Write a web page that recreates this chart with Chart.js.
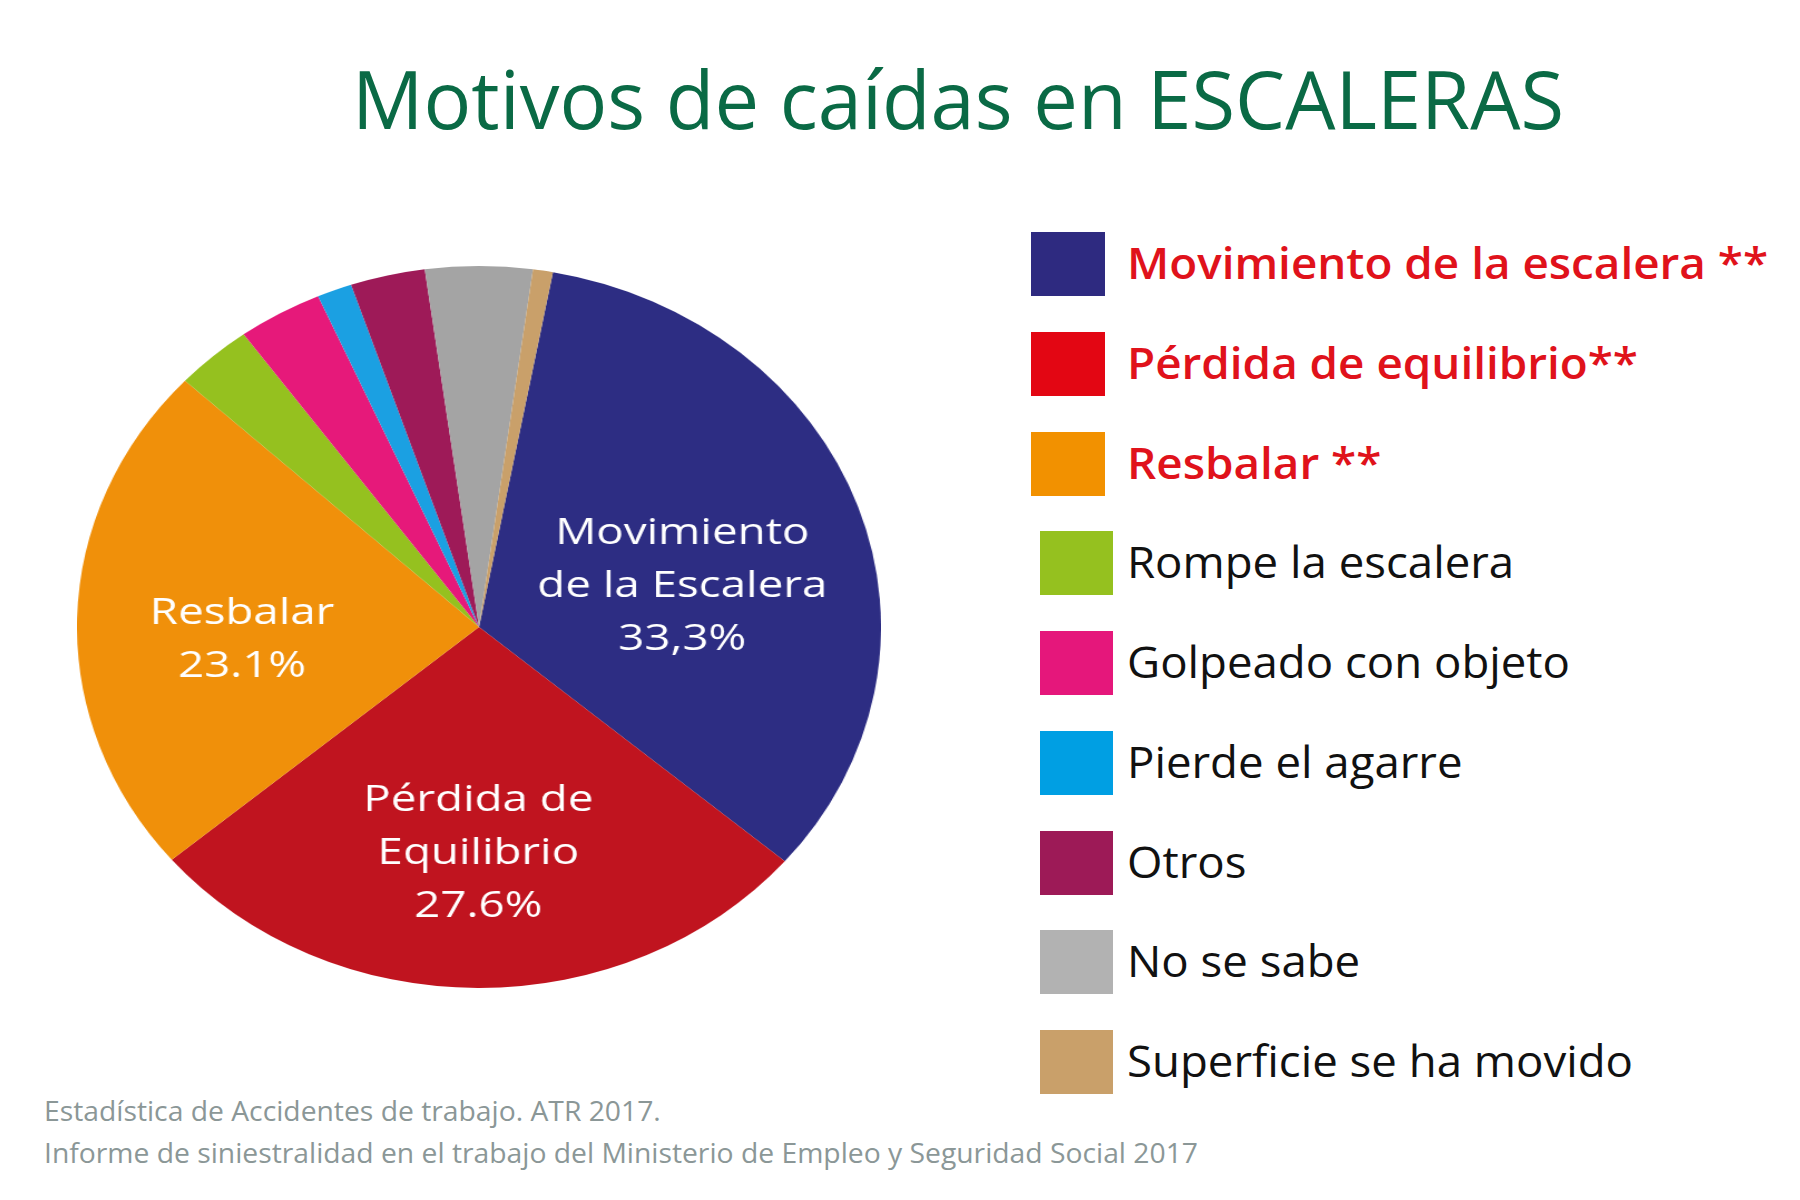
<!DOCTYPE html>
<html><head><meta charset="utf-8">
<script src="https://cdn.jsdelivr.net/npm/chart.js@4.4.1/dist/chart.umd.min.js"></script>
<style>
html,body{margin:0;padding:0;background:#fff;}
body{width:1800px;height:1200px;position:relative;overflow:hidden;}
.t{position:absolute;white-space:nowrap;transform-origin:0 0;margin:0;padding:0;}
.box{position:absolute;}
#pieWrap{position:absolute;left:118px;top:266px;width:722px;height:722px;transform-origin:361px 361px;}
</style></head><body>
<div id="title" class="t"></div>
<div id="pieWrap"><canvas id="pie" width="722" height="722"></canvas></div>
<div id="legend"></div>
<div id="src"></div>
<script>
// ---------- data ----------
const chartTitle = "Motivos de caídas en ESCALERAS";
const categories = ["Movimiento de la escalera", "Pérdida de equilibrio", "Resbalar", "Rompe la escalera", "Golpeado con objeto", "Pierde el agarre", "Otros", "No se sabe", "Superficie se ha movido"];
const legendSuffix = [" **", "**", " **", "", "", "", "", "", ""];
const values = [33.3, 27.6, 23.1, 3.1, 3.4, 1.4, 3.0, 4.3, 0.8];
const sliceLabels = [["Movimiento", "de la Escalera", "33,3%"], ["Pérdida de", "Equilibrio", "27.6%"], ["Resbalar", "23.1%"], null, null, null, null, null, null];
const highlighted = [true, true, true, false, false, false, false, false, false];
const sourceLines = ["Estadística de Accidentes de trabajo. ATR 2017.", "Informe de siniestralidad en el trabajo del Ministerio de Empleo y Seguridad Social 2017"];

// ---------- styles ----------
const pieColors = ["#2d2d83", "#c0141f", "#f0900a", "#95c11f", "#e6197a", "#1ba0e2", "#9e1a58", "#a4a4a4", "#c9a06a"];
const legendColors = ["#2e2a80", "#e30613", "#f29100", "#95c11f", "#e5177b", "#009fe3", "#9d1a57", "#b2b2b2", "#c9a06a"];
const labelRadius = [0.52, 0.62, 0.59];
const labelAngleShift = [6, 0, -4];
const stretchX = 402 / 361;

const UI = '"Open Sans", "Noto Sans", sans-serif';
const mctx = document.createElement('canvas').getContext('2d');
function placeText(el, text, o) {
  el.textContent = text;
  const f = `${o.weight} ${o.size}px ${UI}`;
  el.style.font = f;
  const lh = Math.round(o.size * 1.3);
  el.style.lineHeight = lh + 'px';
  el.style.color = o.color;
  mctx.font = f;
  const m = mctx.measureText(text);
  const A = m.fontBoundingBoxAscent, D = m.fontBoundingBoxDescent;
  el.style.left = o.x + 'px';
  el.style.top = (o.baseline - (lh - (A + D)) / 2 - A) + 'px';
  if (o.sx) el.style.transform = `scaleX(${o.sx})`;
  return m.width;
}
function measure(text, weight, size) {
  mctx.font = `${weight} ${size}px ${UI}`;
  return mctx.measureText(text).width;
}

function build() {
  // title
  const tw = measure(chartTitle, 400, 80);
  placeText(document.getElementById('title'), chartTitle, {weight: 400, size: 80, color: '#0a6a45', x: 352, baseline: 129, sx: 1212 / tw});

  // legend
  const leg = document.getElementById('legend');
  const sxBold = 641 / measure(categories[0] + legendSuffix[0], 600, 43);
  const sxReg = 506 / measure(categories[8] + legendSuffix[8], 500, 43);
  categories.forEach((c, i) => {
    const top = 232 + i * 99.75;
    const b = document.createElement('div');
    b.className = 'box';
    b.style.left = (highlighted[i] ? 1031 : 1040) + 'px';
    b.style.top = top + 'px';
    b.style.width = (highlighted[i] ? 74 : 73) + 'px';
    b.style.height = '64px';
    b.style.background = legendColors[i];
    leg.appendChild(b);
    const t = document.createElement('div');
    t.className = 't';
    leg.appendChild(t);
    placeText(t, c + legendSuffix[i], {
      weight: highlighted[i] ? 600 : 500, size: 43,
      color: highlighted[i] ? '#e0121b' : '#111111',
      x: 1127, baseline: top + 47.5, sx: highlighted[i] ? sxBold : sxReg
    });
  });

  // source
  const src = document.getElementById('src');
  const sxSrc = 1154 / measure(sourceLines[1], 400, 28);
  sourceLines.forEach((s, i) => {
    const t = document.createElement('div');
    t.className = 't';
    src.appendChild(t);
    placeText(t, s, {weight: 400, size: 28, color: '#8b9797', x: 44, baseline: i === 0 ? 1121 : 1163, sx: sxSrc});
  });

  // pie
  document.getElementById('pieWrap').style.transform = `scaleX(${stretchX})`;
  const labelFont = '400 37px "Open Sans", Lato, sans-serif';
  mctx.font = labelFont;
  const labelFit = 290 / mctx.measureText(sliceLabels[0][1]).width;
  const labelPlugin = {
    id: 'sliceLabels',
    afterDatasetsDraw(chart) {
      const ctx = chart.ctx;
      const meta = chart.getDatasetMeta(0);
      meta.data.forEach((arc, i) => {
        const lines = sliceLabels[i];
        if (!lines) return;
        const p = arc.getProps(['x', 'y', 'startAngle', 'endAngle', 'outerRadius'], true);
        const mid = (p.startAngle + p.endAngle) / 2 + labelAngleShift[i] * Math.PI / 180;
        const r = p.outerRadius * labelRadius[i];
        const cx = p.x + Math.cos(mid) * r, cy = p.y + Math.sin(mid) * r;
        ctx.save();
        ctx.translate(cx, cy);
        ctx.scale(labelFit / stretchX, 1);
        ctx.font = labelFont;
        ctx.fillStyle = '#ffffff';
        ctx.textAlign = 'center';
        ctx.textBaseline = 'alphabetic';
        const lh = 53, cap = 27, n = lines.length;
        lines.forEach((t, k) => ctx.fillText(t, 0, (k - (n - 1) / 2) * lh + cap / 2));
        ctx.restore();
      });
    }
  };
  new Chart(document.getElementById('pie'), {
    type: 'pie',
    data: {
      labels: categories,
      datasets: [{data: values, backgroundColor: pieColors, borderWidth: 0}]
    },
    options: {
      responsive: false,
      animation: false,
      devicePixelRatio: 1,
      rotation: 10.6,
      layout: {padding: 0},
      plugins: {legend: {display: false}, tooltip: {enabled: false}, title: {display: false}}
    },
    plugins: [labelPlugin]
  });
}
if (document.fonts && document.fonts.ready) {
  Promise.all([
    document.fonts.load('400 80px "Open Sans"'),
    document.fonts.load('600 43px "Open Sans"'),
    document.fonts.load('500 43px "Open Sans"'),
    document.fonts.load('400 37px "Open Sans"')
  ]).then(build, build);
} else build();
</script>
</body></html>
